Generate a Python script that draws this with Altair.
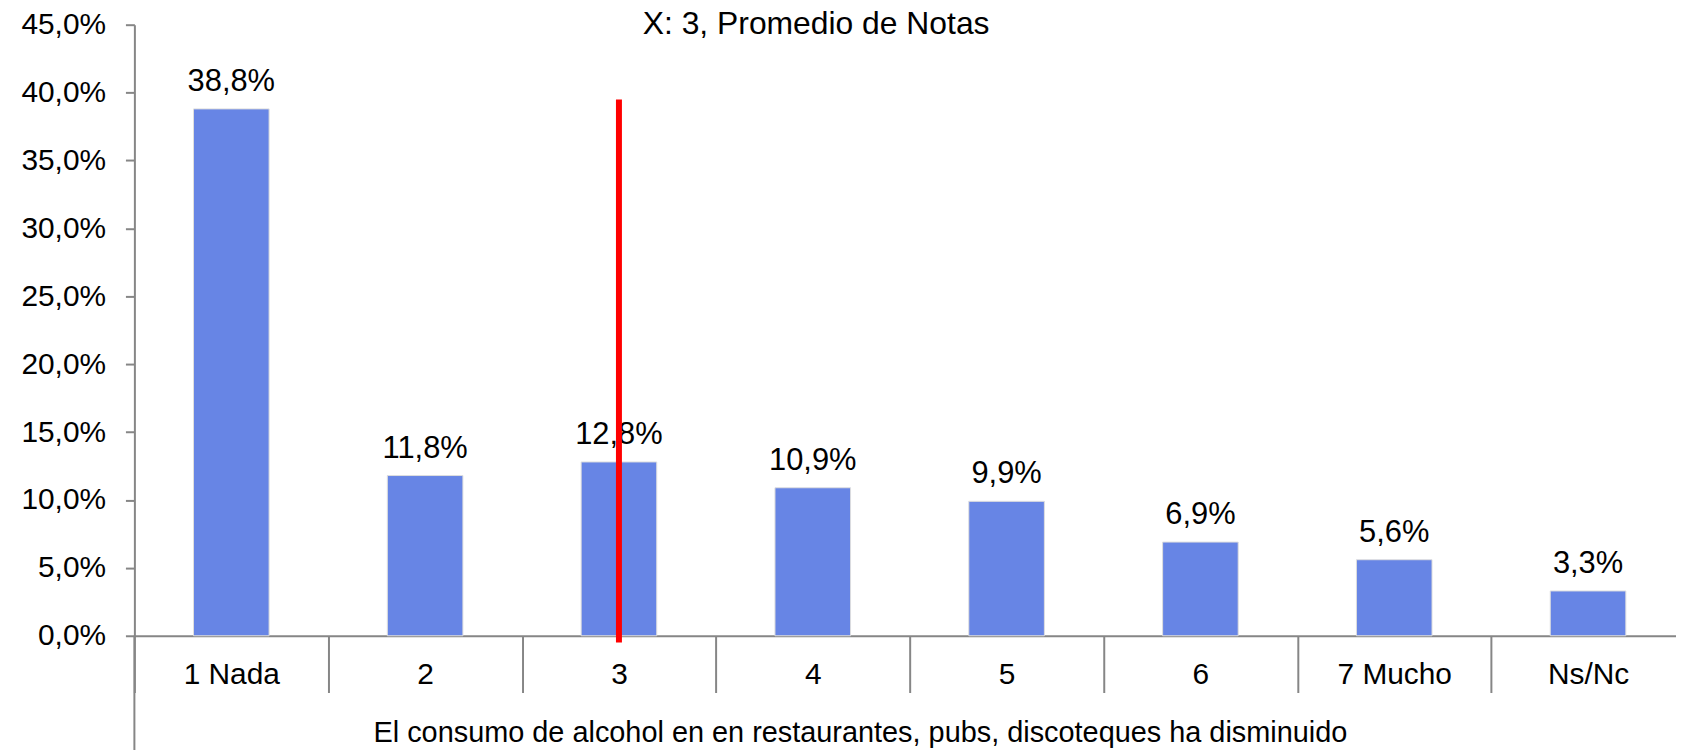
import altair as alt
import pandas as pd

# ---- data ----
categories = ["1 Nada", "2", "3", "4", "5", "6", "7 Mucho", "Ns/Nc"]
values = [38.8, 11.8, 12.8, 10.9, 9.9, 6.9, 5.6, 3.3]
mean_category = ["3"]
mean_top = [39.5]
mean_bottom = [-0.5]
y_ticks = [0, 5, 10, 15, 20, 25, 30, 35, 40, 45]
title_text = ["X: 3, Promedio de Notas"]
x_title = "El consumo de alcohol en en restaurantes, pubs, discoteques ha disminuido"

FONT = "Liberation Sans, Arial, sans-serif"
GRAY = "#868686"
W, H = 1549, 614

bars_df = pd.DataFrame({
    "cat": categories,
    "val": values,
    "label": [f"{v:.1f}".replace(".", ",") + "%" for v in values],
})
mean_df = pd.DataFrame({"cat": mean_category, "top": mean_top, "bottom": mean_bottom})
title_df = pd.DataFrame({"t": title_text})

x_enc = alt.X(
    "cat:N",
    sort=categories,
    scale=alt.Scale(range=[0, 1558], paddingInner=0, paddingOuter=0),
    axis=alt.Axis(
        title=x_title,
        labelAngle=0,
        tickBand="extent",
        tickSize=57,
        tickColor=GRAY,
        tickWidth=2,
        domainColor=GRAY,
        domainWidth=2,
        labelFont=FONT,
        labelFontSize=30,
        labelColor="black",
        labelPadding=-9,
        labelBaseline="alphabetic",
        titleFont=FONT,
        titleFontSize=29,
        titleFontWeight="normal",
        titleColor="black",
        titleX=729,
        titleY=106,
        titleAlign="center",
        titleBaseline="alphabetic",
    ),
)

y_enc = alt.Y(
    "val:Q",
    scale=alt.Scale(domain=[0, 45], nice=False, zero=True),
    axis=alt.Axis(
        title=None,
        values=y_ticks,
        labelExpr="replace(format(datum.value, '.1f'), '.', ',') + '%'",
        grid=False,
        tickSize=9,
        tickColor=GRAY,
        tickWidth=2,
        domainColor=GRAY,
        domainWidth=2,
        labelFont=FONT,
        labelFontSize=30,
        labelColor="black",
        labelPadding=20,
    ),
)

bars = alt.Chart(bars_df).mark_bar(
    width=alt.RelativeBandSize(0.39),
    color="#6785E5",
    stroke="#dedede",
    strokeWidth=1,
).encode(x=x_enc, y=y_enc)

labels = alt.Chart(bars_df).mark_text(
    dy=-18, baseline="alphabetic", fontSize=31, font=FONT, color="black"
).encode(x=alt.X("cat:N", sort=categories), y=alt.Y("val:Q"), text="label:N")

mean_rule = alt.Chart(mean_df).mark_rule(color="#FF0000", strokeWidth=6).encode(
    x=alt.X("cat:N", sort=categories),
    y=alt.Y("top:Q"),
    y2="bottom:Q",
)

axis_ext = alt.Chart(pd.DataFrame({"k": [0]})).mark_rule(color=GRAY, strokeWidth=2).encode(
    x=alt.value(0), y=alt.value(H), y2=alt.value(H + 120)
)

title_mark = alt.Chart(title_df).mark_text(
    fontSize=32, font=FONT, color="black", baseline="alphabetic", align="center"
).encode(x=alt.value(685), y=alt.value(9), text="t:N")

chart = alt.layer(bars, labels, mean_rule, axis_ext, title_mark).properties(
    width=W,
    height=H,
    autosize=alt.AutoSizeParams(type="none"),
    padding={"left": 127, "top": 15, "right": 0, "bottom": 113},
    background="white",
).configure_view(strokeWidth=0)

chart.save("out.html", embed_options={"renderer": "svg", "actions": False})
